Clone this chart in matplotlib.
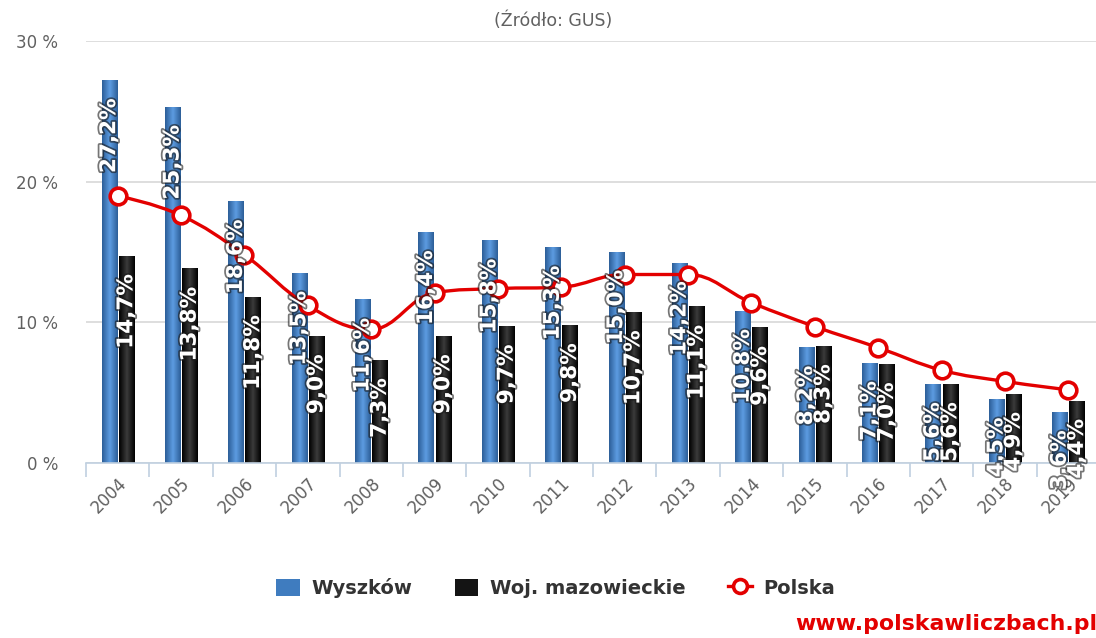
import numpy as np
import matplotlib
matplotlib.use("Agg")
from matplotlib import pyplot as plt
from matplotlib import patheffects
from matplotlib.colors import LinearSegmentedColormap
from matplotlib.lines import Line2D
from matplotlib.patches import Patch, PathPatch
from matplotlib.path import Path

years = [str(y) for y in range(2004, 2020)]
wyszkow = [27.2, 25.3, 18.6, 13.5, 11.6, 16.4, 15.8, 15.3, 15.0, 14.2, 10.8, 8.2, 7.1, 5.6, 4.5, 3.6]
mazowieckie = [14.7, 13.8, 11.8, 9.0, 7.3, 9.0, 9.7, 9.8, 10.7, 11.1, 9.6, 8.3, 7.0, 5.6, 4.9, 4.4]
polska = [19.0, 17.6, 14.8, 11.2, 9.5, 12.1, 12.4, 12.5, 13.4, 13.4, 11.4, 9.7, 8.2, 6.6, 5.8, 5.2]
yticks = [0, 10, 20, 30]

blue = "#3f7cbf"
black = "#141414"
red = "#e30000"
grey_text = "#606060"


def spline_path(xs, ys, smoothing=1.5):
    # highcharts-like spline: control points kept between neighbours
    n = len(xs)
    left = [(xs[i], ys[i]) for i in range(n)]
    right = [(xs[i], ys[i]) for i in range(n)]
    d = smoothing + 1
    for i in range(1, n - 1):
        x, y = xs[i], ys[i]
        px, py = xs[i - 1], ys[i - 1]
        nx, ny = xs[i + 1], ys[i + 1]
        lx, ly = (smoothing * x + px) / d, (smoothing * y + py) / d
        rx, ry = (smoothing * x + nx) / d, (smoothing * y + ny) / d
        corr = (ry - ly) * (rx - x) / (rx - lx) + y - ry
        ly += corr
        ry += corr
        if ly > py and ly > y:
            ly = max(py, y)
            ry = 2 * y - ly
        elif ly < py and ly < y:
            ly = min(py, y)
            ry = 2 * y - ly
        if ry > ny and ry > y:
            ry = max(ny, y)
            ly = 2 * y - ry
        elif ry < ny and ry < y:
            ry = min(ny, y)
            ly = 2 * y - ry
        left[i] = (lx, ly)
        right[i] = (rx, ry)
    verts = [(xs[0], ys[0])]
    codes = [Path.MOVETO]
    for i in range(n - 1):
        verts += [right[i], left[i + 1], (xs[i + 1], ys[i + 1])]
        codes += [Path.CURVE4] * 3
    return Path(verts, codes)


fig = plt.figure(figsize=(10.96, 6.38), dpi=100)
ax = fig.add_axes([86 / 1096, 1 - 463 / 638, 1014 / 1096, 422 / 638])

x = np.arange(len(years))
w = 0.24
off = 0.135
b1 = ax.bar(x - off, wyszkow, w, color=blue, zorder=2)
b2 = ax.bar(x + off, mazowieckie, w, color=black, zorder=2)

# horizontal gradient inside bars
grad = np.linspace(0, 1, 64)
grad = np.abs(grad - 0.5)[None, :] * 2
cm_blue = LinearSegmentedColormap.from_list("b", ["#5c9be0", "#2c5e98"])
cm_black = LinearSegmentedColormap.from_list("k", ["#3a3a3a", "#000000"])
for bars, cm in ((b1, cm_blue), (b2, cm_black)):
    for r in bars:
        ax.imshow(grad, cmap=cm, aspect="auto", zorder=2.1,
                  extent=(r.get_x(), r.get_x() + r.get_width(), 0, r.get_height()))

ax.set_xlim(-0.5, len(years) - 0.5)
ax.set_ylim(0, 30)

# bar labels
pe = [patheffects.withStroke(linewidth=2.5, foreground="#1a1a1a", alpha=0.6)]
for bars, vals in ((b1, wyszkow), (b2, mazowieckie)):
    for r, v in zip(bars, vals):
        ax.annotate(f"{v:.1f}%".replace(".", ","),
                    (r.get_x() + r.get_width() / 2, r.get_height()),
                    xytext=(0, -13), textcoords="offset points",
                    rotation=90, ha="center", va="top", color="white",
                    fontsize=15.5, fontweight="bold", path_effects=pe,
                    zorder=5, annotation_clip=False)

# Polska spline
ax.add_patch(PathPatch(spline_path(list(x), polska), fill=False,
                       edgecolor=red, lw=2.4, zorder=3, capstyle="round"))
ax.plot(x, polska, "o", ms=12, mfc="white", mec=red, mew=2.6, zorder=4)

# axes styling
for s in ("top", "right", "left"):
    ax.spines[s].set_visible(False)
ax.spines["bottom"].set_color("#c0d0e0")
ax.spines["bottom"].set_linewidth(1.2)
ax.set_yticks(yticks)
ax.set_yticklabels([f"{v} %" for v in yticks], fontsize=12, color=grey_text)
ax.tick_params(axis="y", length=0, pad=20)
ax.yaxis.grid(True, color="#d8d8d8", lw=1.2)
ax.set_axisbelow(True)

ax.set_xticks(x)
ax.set_xticklabels(years, rotation=45, ha="right", va="top",
                   rotation_mode="anchor", fontsize=12, color=grey_text)
ax.set_xticks(np.arange(-0.5, len(years)), minor=True)
ax.tick_params(axis="x", which="major", length=0, pad=8)
ax.tick_params(axis="x", which="minor", length=10, color="#c0d0e0", width=1.2)

fig.text(0.505, 1 - 21 / 638, "(Źródło: GUS)", ha="center", va="center",
         fontsize=12.5, color=grey_text)

handles = [
    Patch(facecolor=blue, edgecolor="none"),
    Patch(facecolor=black, edgecolor="none"),
    Line2D([], [], color=red, lw=2.4, marker="o", ms=10, mfc="white", mec=red, mew=2.6),
]
fig.legend(handles, ["Wyszków", "Woj. mazowieckie", "Polska"], loc="center",
           bbox_to_anchor=(0.507, 1 - 588 / 638), ncol=3, frameon=False,
           prop={"weight": "bold", "size": 14}, labelcolor="#333333",
           handlelength=1.2, handleheight=1.0, columnspacing=2.2, handletextpad=0.6)

fig.text(795 / 1096, 1 - 624 / 638, "www.polskawliczbach.pl", ha="left",
         va="center", fontsize=15.8, fontweight="bold", color=red)

fig.savefig("out.png", dpi=100)
